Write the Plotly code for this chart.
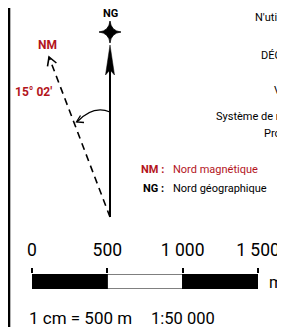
import numpy as np
import plotly.graph_objects as go

# ---- data ----
scale_ticks = [0, 500, 1000, 1500]
scale_tick_labels = ["0", "500", "1 000", "1 500"]
scale_colors = ["black", "white", "black"]
scale_unit = "m"
declination_label = "15° 02'"
nm_label = "NM"
ng_label = "NG"
legend_keys = ["NM :", "NG :"]
legend_texts = ["Nord magnétique", "Nord géographique"]
info_lines = [
    "N'utilisez pas ce document pour la navigation",
    "DÉCLINAISON MAGNÉTIQUE",
    "Au 1er janvier 2024",
    "Variation annuelle : 0° 10' E",
    "Système de référence : RGF93",
    "Projection : Lambert 93",
]
ratio_text = "1 cm = 500 m"
scale_text = "1:50 000"

# page has an 8px body margin: work in screen pixels
OFF = 8
SW, SH = 285, 327
W, H = SW - OFF, SH - OFF
RED = "#b3141c"
FONT = "Roboto, Liberation Sans, sans-serif"

fig = go.Figure()

# scale bar
seg_start = scale_ticks[:-1]
seg_len = list(np.diff(scale_ticks))
fig.add_trace(go.Bar(
    x=seg_len, base=seg_start, y=[0] * len(seg_len), orientation="h",
    marker=dict(color=scale_colors, line=dict(color="black", width=1)),
    width=1, xaxis="x2", yaxis="y2", hoverinfo="skip", showlegend=False,
))

shapes = []
# left border line
shapes.append(dict(type="line", x0=9, x1=9, y0=0, y1=SH + 5, line=dict(color="black", width=2.6)))
# NG arrow
shapes.append(dict(type="line", x0=110, x1=110, y0=217, y1=62, line=dict(color="black", width=2)))
shapes.append(dict(type="path", path="M110,45 L114.5,75 L110,70 L105.5,75 Z",
                   fillcolor="black", line=dict(color="black", width=0.5)))
# star
shapes.append(dict(type="path",
                   path="M110,21 Q111,31 121,32 Q111,33 110,43 Q109,33 99,32 Q109,31 110,21 Z",
                   fillcolor="black", line=dict(color="black", width=0.8)))
# NM dashed arrow
bx, by, tx, ty = 110, 217, 49, 57
shapes.append(dict(type="line", x0=bx, x1=tx, y0=by, y1=ty,
                   line=dict(color="black", width=1.6, dash="7px,5px")))
d = np.array([bx - tx, by - ty], dtype=float)
d /= np.linalg.norm(d)
arms = []
for a in (np.radians(30), np.radians(-30)):
    r = np.array([d[0] * np.cos(a) - d[1] * np.sin(a), d[0] * np.sin(a) + d[1] * np.cos(a)]) * 9.5
    arms.append((tx + r[0], ty + r[1]))
shapes.append(dict(type="path",
                   path=f"M{arms[0][0]:.1f},{arms[0][1]:.1f} L{tx},{ty} L{arms[1][0]:.1f},{arms[1][1]:.1f}",
                   line=dict(color="black", width=1.6)))
# declination arc
shapes.append(dict(type="path", path="M110,112 Q93,105 77,122", line=dict(color="black", width=1.3)))
shapes.append(dict(type="path", path="M80.5,115.5 L76.5,122 L84,122.5", line=dict(color="black", width=1.3)))

ann = []
ann.append(dict(x=110, y=13, text=f"<b>{ng_label}</b>", font=dict(size=11, color="black")))
ann.append(dict(x=47, y=45, text=f"<b>{nm_label}</b>", font=dict(size=12, color=RED)))
ann.append(dict(x=33, y=92, text=f"<b>{declination_label}</b>", font=dict(size=12, color=RED)))

info_x = [253, 259, 280, 272, 214, 262]
info_y = [17, 55, 72, 90, 116, 133]
for t, xx, yy in zip(info_lines, info_x, info_y):
    ann.append(dict(x=xx, y=yy, text=t, xanchor="left", font=dict(size=11, color="black")))

leg_y = [169, 188]
leg_col = [RED, "black"]
for k, t, yy, c in zip(legend_keys, legend_texts, leg_y, leg_col):
    ann.append(dict(x=166, y=yy, text=f"<b>{k}</b>", xanchor="right", font=dict(size=11, color=c)))
    ann.append(dict(x=171, y=yy, text=t, xanchor="left", font=dict(size=11, color=c)))

ann.append(dict(x=267, y=282, text=scale_unit, xanchor="left", font=dict(size=16, color="black")))
ann.append(dict(x=27, y=318, text=ratio_text, xanchor="left", font=dict(size=17, color="black")))
ann.append(dict(x=149, y=318, text=scale_text, xanchor="left", font=dict(size=16.5, color="black")))

for a in ann:
    a.setdefault("xanchor", "center")
    a.update(xref="x", yref="y", showarrow=False, yanchor="middle")

def px_x(v):
    return (v - OFF) / W

def px_y(v):
    return 1 - (v - OFF) / H

fig.update_layout(
    width=W, height=H, margin=dict(l=0, r=0, t=0, b=0, autoexpand=False),
    paper_bgcolor="white", plot_bgcolor="rgba(0,0,0,0)",
    font=dict(family=FONT),
    barmode="overlay",
    xaxis=dict(range=[OFF, SW], visible=False, domain=[0, 1]),
    yaxis=dict(range=[SH, OFF], visible=False, domain=[0, 1]),
    xaxis2=dict(range=[scale_ticks[0], scale_ticks[-1]], domain=[px_x(32), px_x(258)], anchor="y2",
                side="top", tickvals=scale_ticks, ticktext=scale_tick_labels,
                ticks="outside", ticklen=5, tickwidth=1.5, tickcolor="black",
                showgrid=False, zeroline=False, showline=False, automargin=False,
                tickfont=dict(size=17.5, color="black"), ticklabelstandoff=5),
    yaxis2=dict(range=[-0.5, 0.5], domain=[px_y(289), px_y(274)], anchor="x2",
                visible=False),
    shapes=shapes, annotations=ann,
)

fig.write_html("out.html", post_script="document.body.style.overflow='hidden';")
